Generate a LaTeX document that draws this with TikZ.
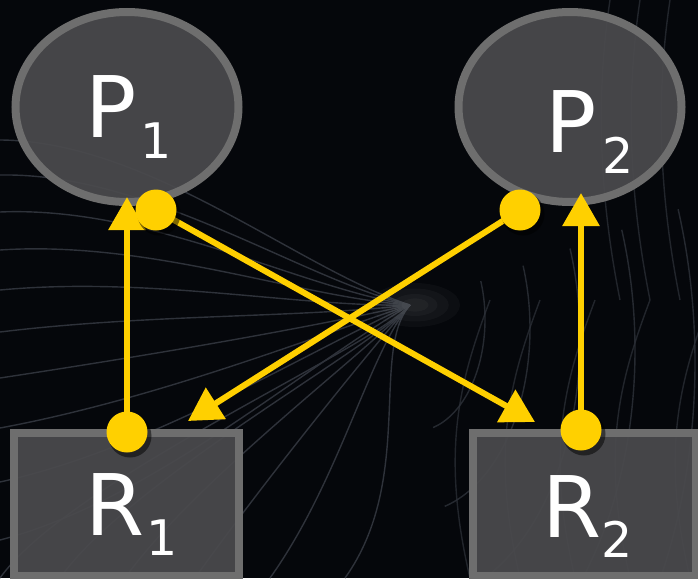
\documentclass[tikz,border=0pt]{standalone}
\usepackage{fontspec}
\setmainfont{DejaVu Sans}
\usetikzlibrary{shapes.geometric,arrows.meta}
\definecolor{bg}{HTML}{05070B}
\definecolor{nodefill}{HTML}{4A4A4D}
\definecolor{nodeline}{HTML}{6E6E6E}
\definecolor{gold}{HTML}{FFD000}
\definecolor{wave}{HTML}{2E323A}
\begin{document}
\begin{tikzpicture}[x=1pt,y=-1pt,
 proc/.style={ellipse,draw=nodeline,fill=nodefill,fill opacity=0.93,line width=8pt,minimum width=223pt,minimum height=190pt,inner sep=0pt},
 res/.style={rectangle,draw=nodeline,fill=nodefill,fill opacity=0.93,line width=8pt,inner sep=0pt,minimum height=143pt},
 lbl/.style={text=white,inner sep=0pt,anchor=base west},
 dotnode/.style={circle,fill=gold,inner sep=0pt,minimum size=41pt},
 shadownode/.style={circle,fill=black,opacity=0.5,inner sep=0pt,minimum size=43pt},
 arr/.style={draw=gold,line width=6pt,-{Triangle[length=33pt,width=36pt,fill=gold]}},
 wavel/.style={draw=wave,line width=1.4pt}]
\fill[bg] (0,0) rectangle (698,578);
\useasboundingbox (0,0) rectangle (698,578);
% background fan
\foreach \yy in {140,175,212,250,290,332,378,428,482,540}
  \draw[wavel] (410,305) .. controls (300,\yy/4+235) and (150,\yy*0.9+15) .. (0,\yy);
\foreach \xx in {0,60,125,195,270,345}
  \draw[wavel] (410,305) .. controls (370,350) and (\xx+70,480) .. (\xx,578);
\foreach \r in {70,115,165,220,280,345}
  \draw[wavel,opacity=0.8] (415,305) ++(-20:\r) arc[start angle=-20,end angle=75,x radius=\r,y radius=\r*1.6];
\foreach \xx in {470,520,575,630,690}
  \draw[wavel,opacity=0.7] (\xx,578) .. controls (\xx-30,450) and (\xx-10,380) .. (\xx+20,300);
\foreach \xx in {610,640,670}
  \draw[wavel,opacity=0.7] (\xx,0) .. controls (\xx-15,100) and (\xx-10,200) .. (\xx+10,300);
\foreach \s in {1,0.75,0.5,0.3}
  \fill[white,opacity=0.03] (415,305) ellipse ({45*\s} and {22*\s});
% nodes
\node[proc] (p1) at (127,107) {};
\node[proc] (p2) at (570,107) {};
\node[res,minimum width=225pt] (r1) at (126.5,504.5) {};
\node[res,minimum width=223pt] (r2) at (584.5,504.5) {};
% labels
\node[lbl] (p1l) at (85,137) {\fontsize{85}{85}\selectfont P\kern4pt\raisebox{-21pt}{\fontsize{49}{49}\selectfont 1}};
\node[lbl] (p2l) at (545,152) {\fontsize{85}{85}\selectfont P\kern6pt\raisebox{-21pt}{\fontsize{49}{49}\selectfont 2}};
\node[lbl] (r1l) at (85,535) {\fontsize{85}{85}\selectfont R\kern2pt\raisebox{-20pt}{\fontsize{49}{49}\selectfont 1}};
\node[lbl] (r2l) at (542,537) {\fontsize{85}{85}\selectfont R\kern0pt\raisebox{-20pt}{\fontsize{49}{49}\selectfont 2}};
% dots and tips
\coordinate (t1) at (127,197);
\coordinate (t2) at (535,422);
\coordinate (t3) at (188,421);
\coordinate (t4) at (581,193);
\node[dotnode,fill=none] (d1) at (127,432) {};
\node[dotnode,fill=none] (d2) at (156,210) {};
\node[dotnode,fill=none] (d3) at (520,210) {};
\node[dotnode,fill=none] (d4) at (581,430) {};
% arrows
\draw[arr] (d1.center) -- (t1);
\draw[arr] (d2.center) -- (t2);
\draw[arr] (d3.center) -- (t3);
\draw[arr] (d4.center) -- (t4);
% dots
\foreach \d in {d1,d2,d3,d4} {
  \node[shadownode] at ([shift={(3,4)}]\d.center) {};
  \node[dotnode] at (\d.center) {};
}
\end{tikzpicture}
\end{document}
